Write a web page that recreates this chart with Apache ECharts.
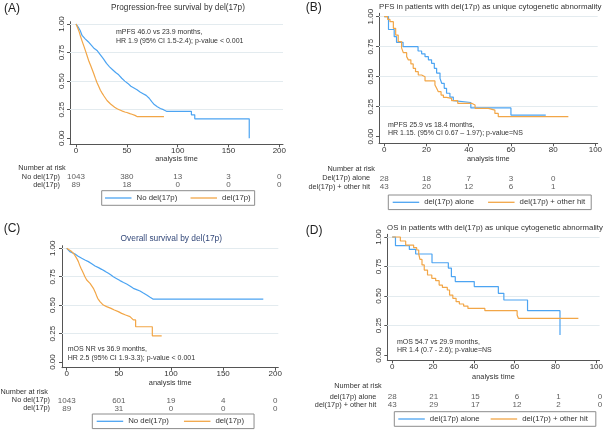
<!DOCTYPE html>
<html><head><meta charset="utf-8">
<script src="https://cdn.jsdelivr.net/npm/echarts@6/dist/echarts.min.js"></script>
<style>html,body{margin:0;padding:0;background:#fff}#c{width:606px;height:431px}</style>
</head><body><div id="c"></div>
<script>
// ---------- DATA ----------
// Panel A: PFS by del(17p)  [time, survival]
const pfsAll_noDel = [[0,1],[2,0.975],[4,0.945],[6,0.9],[9,0.87],[12,0.845],[15,0.815],[18,0.785],[21,0.765],[24,0.73],[27,0.695],[30,0.655],[33,0.625],[36,0.6],[39,0.575],[42,0.555],[45,0.525],[48,0.5],[51,0.48],[54,0.455],[57,0.44],[60,0.425],[63,0.405],[66,0.39],[69,0.375],[72,0.35],[74.5,0.32],[77,0.295],[80,0.275],[83,0.26],[86,0.25],[89,0.236],[113.5,0.236],[113.5,0.205],[116.8,0.205],[116.8,0.17],[170.4,0.17],[170.4,0]];
const pfsAll_del = [[0,1],[1.5,0.97],[3,0.935],[4.5,0.89],[6,0.85],[8,0.8],[9.5,0.76],[11,0.72],[12.7,0.673],[14.5,0.635],[16,0.6],[17.5,0.565],[19,0.526],[20.5,0.49],[22.4,0.453],[24,0.42],[25.7,0.395],[27.5,0.37],[29,0.35],[30.5,0.33],[32,0.316],[34,0.3],[35.4,0.287],[38,0.272],[40,0.26],[42.5,0.25],[45,0.24],[48,0.23],[50,0.225],[53,0.215],[55,0.21],[58,0.2],[60,0.19],[86.5,0.19]];
// Panel B: PFS, del(17p) as unique abnormality
const pfsUnique_alone = [[0,1],[2,0.893],[4.7,0.833],[5.8,0.786],[8.9,0.75],[16,0.714],[17.7,0.69],[19.3,0.667],[20.9,0.64],[22.4,0.611],[23.7,0.57],[24.8,0.53],[26.4,0.486],[27.2,0.445],[28.4,0.403],[29.5,0.362],[31.1,0.33],[32.7,0.3],[33.5,0.285],[41,0.24],[60,0.18],[76.5,0.18]];
const pfsUnique_other = [[0,1],[1.6,0.977],[2.7,0.958],[4.3,0.903],[5.4,0.847],[6.6,0.792],[8.2,0.74],[9,0.7],[10.6,0.667],[11.4,0.64],[12.6,0.606],[13.7,0.57],[14.8,0.542],[16.1,0.514],[17.7,0.5],[19.3,0.465],[24,0.43],[24.8,0.403],[25.6,0.375],[26.9,0.347],[28,0.328],[29.5,0.319],[31.9,0.3],[34.8,0.278],[41.4,0.264],[43,0.236],[49.3,0.222],[52.4,0.194],[54,0.167],[87.2,0.167]];
// Panel C: OS by del(17p)
const osAll_noDel = [[0,1],[3,0.971],[8,0.95],[11,0.93],[14.4,0.912],[17.5,0.897],[20.8,0.883],[24,0.865],[27.2,0.845],[30.5,0.83],[33.5,0.815],[37,0.797],[40,0.78],[42.5,0.765],[44.7,0.75],[48,0.733],[51.1,0.716],[54.5,0.7],[57.5,0.686],[61,0.667],[63.9,0.648],[67,0.637],[70.3,0.625],[73.5,0.607],[76.7,0.59],[80,0.57],[83,0.553],[188.5,0.553]];
const osAll_del = [[0,1],[4.8,0.971],[7,0.95],[8.6,0.927],[10,0.905],[11.2,0.883],[12.5,0.85],[13.7,0.824],[15,0.8],[16,0.78],[17.5,0.75],[19.2,0.721],[21,0.705],[22.4,0.692],[24,0.67],[25.6,0.648],[26.8,0.625],[27.8,0.604],[28.8,0.58],[29.7,0.56],[30.8,0.545],[31.9,0.531],[33.5,0.515],[35.1,0.501],[38.3,0.487],[42.5,0.472],[45.7,0.457],[49.5,0.443],[52.7,0.428],[56.5,0.413],[60.7,0.399],[63.9,0.37],[66.1,0.37],[66.1,0.31],[82.1,0.31],[82.1,0.23],[91.1,0.23]];
// Panel D: OS, del(17p) as unique abnormality
const osUnique_alone = [[0,1],[1.6,0.927],[8.4,0.895],[11.5,0.856],[19.5,0.782],[27.5,0.737],[29,0.664],[30.9,0.622],[40.2,0.58],[52,0.523],[54.7,0.466],[66.3,0.376],[82.2,0.376],[82.2,0.17]];
const osUnique_other = [[0,1],[4,0.966],[6.6,0.932],[10.5,0.91],[12,0.89],[13,0.856],[13.6,0.81],[14.6,0.763],[15.7,0.72],[17.3,0.678],[19.4,0.65],[21.3,0.63],[23,0.593],[24.6,0.573],[27,0.551],[28.1,0.508],[29.7,0.48],[31.3,0.452],[32.9,0.432],[35,0.415],[37.1,0.395],[45.4,0.376],[61.2,0.339],[61.8,0.311],[91.2,0.311]];

// Number at risk
const riskTimesA = [0,50,100,150,200];
const riskA_noDel = [1043,380,13,3,0];
const riskA_del = [89,18,0,0,0];
const riskTimesB = [0,20,40,60,80];
const riskB_alone = [28,18,7,3,0];
const riskB_other = [43,20,12,6,1];
const riskTimesC = [0,50,100,150,200];
const riskC_noDel = [1043,601,19,4,0];
const riskC_del = [89,31,0,0,0];
const riskTimesD = [0,20,40,60,80,100];
const riskD_alone = [28,21,15,6,1,0];
const riskD_other = [43,29,17,12,2,0];

// Tick labels
const xTicksA = [0,50,100,150,200];
const xTicksB = [0,20,40,60,80,100];
const yTicks = [0,0.25,0.5,0.75,1];

// Texts
const panelLabels = ['(A)','(B)','(C)','(D)'];
const titles = ['Progression-free survival by del(17p)','PFS in patients with del(17p) as unique cytogenetic abnormality','Overall survival by del(17p)','OS in patients with del(17p) as unique cytogenetic abnormality'];
const notes = [['mPFS 46.0 vs 23.9 months,','HR 1.9 (95% CI 1.5-2.4); p-value < 0.001'],['mPFS 25.9 vs 18.4 months,','HR 1.15. (95% CI 0.67 \u2013 1.97); p-value=NS'],['mOS NR vs 36.9 months,','HR 2.5 (95% CI 1.9-3.3); p-value < 0.001'],['mOS 54.7 vs 29.9 months,','HR 1.4 (0.7 - 2.6); p-value=NS']];
const groupNames = [['No del(17p)','del(17p)'],['del(17p) alone','del(17p) + other hit'],['No del(17p)','del(17p)'],['del(17p) alone','del(17p) + other hit']];
const riskRowNames = [['No del(17p)','del(17p)'],['Del(17p) alone','del(17p) + other hit'],['No del(17p)','del(17p)'],['del(17p) alone','del(17p) + other hit']];

// ---------- LAYOUT / STYLE ----------
const BLUE = '#4ca4f2', ORANGE = '#f2a647', AX = '#555', TXT = '#333';
const FONT = '"Liberation Sans", Arial, Helvetica, sans-serif';
const curves = [[pfsAll_noDel,pfsAll_del],[pfsUnique_alone,pfsUnique_other],[osAll_noDel,osAll_del],[osUnique_alone,osUnique_other]];
const stepMode = [false, 'end', false, 'end'];
const risks = [[riskTimesA,riskA_noDel,riskA_del],[riskTimesB,riskB_alone,riskB_other],[riskTimesC,riskC_noDel,riskC_del],[riskTimesD,riskD_alone,riskD_other]];
const xTicks = [xTicksA,xTicksB,xTicksA,xTicksB];
const L = [
 {grid:[70,21.7,213,122.6], x:[-5.9,203.6], y:[-0.053,1.02], risk:[172.6,16.8], ylm:3.8, xlm:2.5, ng:10.5, rlm:10,
  lab:[12,8.3], title:[178,7.3,8.2,'#333'], note:[116,32.5,41], nar:[18.3,168.3,'left'],
  legend:{left:101.7, top:190.7, padding:[2.8,4,2.8,3.3], itemGap:13.3}},
 {grid:[379,13.3,218.7,130], x:[-2.5,101.1], y:[-0.055,1.028], risk:[174.05,17], ylm:4.5, xlm:2, ng:12.5, rlm:9,
  lab:[313.7,7.5], title:[490.3,6.7,7.9,'#333'], note:[388,125.2,133.5], nar:[375,169,'right'],
  legend:{left:388.3, top:195, padding:[2.8,6,2.8,4.4], itemGap:14}},
 {grid:[62,245.7,216.3,122], x:[-4.5,202.9], y:[-0.05,1.023], risk:[396.3,16], ylm:5.2, xlm:2, ng:11.5, rlm:12,
  lab:[12,229], title:[171.3,238.3,8.4,'#34497a'], note:[67.7,349.5,358.3], nar:[0.5,392.3,'left'],
  legend:{left:92.3, top:414, padding:[2.8,10,2.8,4.4], itemGap:15}},
 {grid:[387.3,234.3,216,126], x:[-2.4,101.6], y:[-0.045,1.023], risk:[392.55,16.6], ylm:4.5, xlm:2.5, ng:13, rlm:11,
  lab:[314.2,230.8], title:[495,227.7,7.8,'#333'], note:[397,342,350.5], nar:[381.7,386,'right'],
  legend:{left:394.3, top:411.7, padding:[2.8,8,2.8,4], itemGap:11}}
];

function txt(x,y,text,size,color,align){
  return {type:'text', x:x, y:y, silent:true,
    style:{text:text, fontSize:size, fontFamily:FONT, fill:color, textAlign:align, textVerticalAlign:'middle', align:align, verticalAlign:'middle'}};
}

const grid=[], xAxis=[], yAxis=[], series=[], legend=[], graphic=[];
L.forEach((p,i)=>{
  grid.push({left:p.grid[0], top:p.grid[1], width:p.grid[2], height:p.grid[3]});
  xAxis.push({type:'value', gridIndex:grid.length-1, min:p.x[0], max:p.x[1],
    axisLine:{show:true, onZero:false, lineStyle:{color:AX, width:1}},
    axisTick:{show:true, length:3, customValues:xTicks[i], lineStyle:{color:AX}},
    axisLabel:{customValues:xTicks[i], margin:p.xlm, fontSize:8, color:TXT, fontFamily:FONT},
    splitLine:{show:false},
    name:'analysis time', nameLocation:'middle', nameGap:p.ng, nameTextStyle:{fontSize:7.4, color:TXT, fontFamily:FONT}});
  yAxis.push({type:'value', gridIndex:grid.length-1, min:p.y[0], max:p.y[1],
    axisLine:{show:true, onZero:false, lineStyle:{color:AX, width:1}},
    axisTick:{show:true, length:3, customValues:yTicks, lineStyle:{color:AX}},
    axisLabel:{customValues:yTicks, rotate:90, margin:p.ylm, fontSize:8, color:TXT, fontFamily:FONT, formatter:v=>v.toFixed(2)},
    splitLine:{show:false}});
  const gi = grid.length-1;
  curves[i].forEach((d,k)=>{
    const s = {type:'line', name:groupNames[i][k], xAxisIndex:gi, yAxisIndex:gi, data:d, step:stepMode[i],
      showSymbol:false, symbol:'none', color:k?ORANGE:BLUE, lineStyle:{width:1.2, color:k?ORANGE:BLUE},
      z:3, animation:false, emphasis:{disabled:true}};
    if(k===0){
      s.markLine = {silent:true, symbol:['none','none'], label:{show:false}, animation:false, z:1,
        lineStyle:{color:'#e3ebef', width:1, type:'solid'}, emphasis:{disabled:true},
        data:yTicks.filter(v=>v>0).map(v=>({yAxis:v}))};
    }
    series.push(s);
  });
  grid.push({left:p.grid[0], top:p.risk[0], width:p.grid[2], height:p.risk[1]});
  xAxis.push({type:'value', gridIndex:grid.length-1, min:p.x[0], max:p.x[1], show:false});
  yAxis.push({type:'category', gridIndex:grid.length-1, data:riskRowNames[i], inverse:true,
    axisLine:{show:false}, axisTick:{show:false}, splitLine:{show:false},
    axisLabel:{interval:0, margin:p.rlm, fontSize:7.3, color:TXT, fontFamily:FONT}});
  const ri = grid.length-1;
  const [times, r1, r2] = risks[i];
  [r1,r2].forEach((vals,k)=>{
    series.push({type:'scatter', name:'risk'+i+k, xAxisIndex:ri, yAxisIndex:ri, symbolSize:1,
      itemStyle:{color:'rgba(0,0,0,0)'}, animation:false, silent:true,
      data:times.map((t,j)=>[t, riskRowNames[i][k], vals[j]]),
      label:{show:true, position:'inside', formatter:q=>String(q.value[2]), fontSize:8, color:TXT, fontFamily:FONT}});
  });
  legend.push(Object.assign({orient:'horizontal', data:groupNames[i], icon:'rect', itemWidth:26.5, itemHeight:1.3,
    borderColor:'#8c8c8c', borderWidth:1, selectedMode:false,
    textStyle:{fontSize:7.8, color:TXT, fontFamily:FONT, lineHeight:9}}, p.legend));
  graphic.push(txt(p.lab[0], p.lab[1], panelLabels[i], 12, '#222', 'center'));
  graphic.push(txt(p.title[0], p.title[1], titles[i], p.title[2], p.title[3], 'center'));
  graphic.push(txt(p.note[0], p.note[1], notes[i][0], 7, TXT, 'left'));
  graphic.push(txt(p.note[0], p.note[2], notes[i][1], 7, TXT, 'left'));
  graphic.push(txt(p.nar[0], p.nar[1], 'Number at risk', 7.3, TXT, p.nar[2]));
});

const chart = echarts.init(document.getElementById('c'), null, {renderer:'canvas'});
chart.setOption({animation:false, backgroundColor:'#fff', textStyle:{fontFamily:FONT},
  grid, xAxis, yAxis, series, legend, graphic});
</script></body></html>
